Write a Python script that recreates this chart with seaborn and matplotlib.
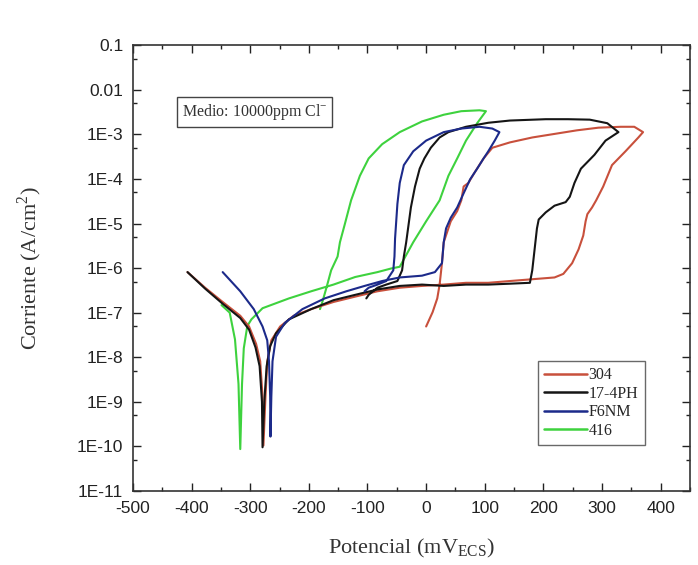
import numpy as np
import pandas as pd
import matplotlib
matplotlib.use("Agg")
import matplotlib.pyplot as plt
import seaborn as sns
from matplotlib.ticker import FixedLocator, FixedFormatter

# ---------------- data (potential mV, log10 current A/cm2) ----------------
series_names = ["304", "17-4PH", "F6NM", "416"]

e_304 = [-407, -377, -347, -317, -302, -290, -283, -279, -277.5,
         -274, -271, -264, -249, -226, -196, -158, -121, -83, -45, -7, 30, 68, 106,
         143, 181, 219, 234, 249, 260, 268, 272, 275, 283, 290, 302, 317, 340, 362, 370,
         355, 332, 294, 257, 219, 181, 143, 113, 98, 83, 72, 64, 60, 53, 42, 30, 27, 23, 19, 11, 0]
logi_304 = [-6.09, -6.44, -6.76, -7.07, -7.31, -7.70, -8.09, -8.88, -9.98,
            -8.88, -8.10, -7.62, -7.31, -7.07, -6.92, -6.76, -6.64, -6.52, -6.44, -6.40, -6.37, -6.33, -6.33,
            -6.29, -6.25, -6.21, -6.13, -5.89, -5.58, -5.27, -4.95, -4.79, -4.64, -4.48, -4.17, -3.69, -3.38, -3.07, -2.95,
            -2.83, -2.83, -2.85, -2.91, -2.99, -3.07, -3.18, -3.30, -3.54, -3.85, -4.09, -4.17, -4.48, -4.72, -4.95, -5.42, -5.89, -6.37, -6.68, -6.99, -7.31]

e_174 = [-407, -377, -347, -317, -302, -291, -284, -280, -279,
         -276, -272, -266, -256, -234, -196, -158, -121, -83, -45, -7, 30, 68, 106,
         143, 177, 181, 185, 189, 192, 204, 219, 238, 245, 253, 264, 287, 306, 328,
         309, 279, 242, 204, 143, 106, 68, 38, 23, 8, -3, -11, -19, -26, -30, -34, -38, -41, -49, -68, -83, -98, -102]
logi_174 = [-6.09, -6.46, -6.80, -7.12, -7.38, -7.78, -8.20, -9.00, -10.02,
            -9.00, -8.20, -7.75, -7.46, -7.15, -6.92, -6.72, -6.60, -6.48, -6.40, -6.37, -6.40, -6.37, -6.37,
            -6.35, -6.33, -6.05, -5.58, -5.11, -4.91, -4.75, -4.60, -4.52, -4.40, -4.09, -3.77, -3.46, -3.14, -2.95,
            -2.75, -2.67, -2.66, -2.66, -2.69, -2.74, -2.83, -2.95, -3.07, -3.30, -3.54, -3.77, -4.17, -4.64, -5.03, -5.42, -5.74, -6.05, -6.29, -6.37, -6.44, -6.60, -6.68]

e_f6 = [-347, -317, -294, -279, -271, -268, -266, -265.5,
        -264, -262, -256, -241, -211, -173, -136, -105, -75, -45, -7, 15, 27, 30, 34, 42, 53, 64, 75, 87, 98, 106, 117, 125,
        113, 91, 60, 30, 0, -22, -38, -45, -49, -51, -53, -54, -56, -68, -83, -98, -105]
logi_f6 = [-6.09, -6.52, -6.92, -7.31, -7.62, -8.09, -8.88, -9.78,
           -8.88, -8.09, -7.54, -7.23, -6.92, -6.68, -6.52, -6.40, -6.29, -6.21, -6.17, -6.09, -5.89, -5.42, -5.11, -4.87, -4.64, -4.32, -4.01, -3.77, -3.54, -3.38, -3.14, -2.95,
           -2.87, -2.83, -2.87, -2.95, -3.14, -3.38, -3.69, -4.09, -4.56, -4.95, -5.34, -5.74, -6.05, -6.29, -6.37, -6.44, -6.52]

e_416 = [-349, -335, -326, -320, -317,
         -314, -311, -305, -298, -279, -234, -196, -158, -121, -83, -60, -45,
         -22, 0, 23, 38, 53, 68, 87, 102,
         91, 60, 30, -7, -45, -75, -98, -113, -128, -139, -147, -151, -162, -170, -177, -181]
logi_416 = [-6.83, -7.00, -7.60, -8.60, -10.06,
            -8.60, -7.80, -7.30, -7.15, -6.90, -6.68, -6.52, -6.37, -6.20, -6.09, -6.01, -5.97,
            -5.42, -4.95, -4.48, -3.93, -3.54, -3.14, -2.75, -2.48,
            -2.46, -2.48, -2.56, -2.71, -2.95, -3.22, -3.54, -3.93, -4.48, -5.03, -5.42, -5.74, -6.05, -6.44, -6.76, -6.92]

colors = ["#c8503c", "#151515", "#1c2a8a", "#3ed23e"]

x_ticks = [-500, -400, -300, -200, -100, 0, 100, 200, 300, 400]
y_tick_vals = [1e-1, 1e-2, 1e-3, 1e-4, 1e-5, 1e-6, 1e-7, 1e-8, 1e-9, 1e-10, 1e-11]
y_tick_labels = ["0.1", "0.01", "1E-3", "1E-4", "1E-5", "1E-6", "1E-7", "1E-8", "1E-9", "1E-10", "1E-11"]

# ---------------- build frame ----------------
frames = []
for name, e, li in zip(series_names, [e_304, e_174, e_f6, e_416], [logi_304, logi_174, logi_f6, logi_416]):
    frames.append(pd.DataFrame({"E": e, "I": 10.0 ** np.array(li), "serie": name}))
df = pd.concat(frames, ignore_index=True)

sns.set_style("white")
plt.rcParams["font.family"] = ["Liberation Sans", "DejaVu Sans"]
plt.rcParams["axes.unicode_minus"] = False

fig = plt.figure(figsize=(6.98, 5.65), dpi=100)
ax = fig.add_axes([0.1905, 0.131, 0.798, 0.789])

draw_order = ["416", "304", "17-4PH", "F6NM"]
for name in draw_order:
    sub = df[df["serie"] == name]
    sns.lineplot(data=sub, x="E", y="I", sort=False, estimator=None, ax=ax,
                 color=colors[series_names.index(name)], lw=1.5, legend=False)

ax.set_yscale("log")
ax.set_xlim(-500, 450)
ax.set_ylim(1e-11, 1e-1)

ax.xaxis.set_major_locator(FixedLocator(x_ticks))
ax.xaxis.set_minor_locator(FixedLocator(np.arange(-450, 451, 100)))
ax.yaxis.set_major_locator(FixedLocator(y_tick_vals))
ax.yaxis.set_major_formatter(FixedFormatter(y_tick_labels))
ax.yaxis.set_minor_locator(FixedLocator([5 * 10.0 ** k for k in range(-12, -1)]))
ax.yaxis.set_minor_formatter(FixedFormatter([""] * 11))

ax.tick_params(which="both", direction="in", top=True, right=True, bottom=True, left=True,
               labelsize=12.5, colors="#222222", width=1.0)
ax.tick_params(which="major", length=6)
ax.tick_params(which="minor", length=3)
ax.tick_params(axis="x", which="major", pad=7)
ax.tick_params(axis="y", which="major", pad=7)
for s in ax.spines.values():
    s.set_color("#333333")
    s.set_linewidth(1.2)

serif = ["Liberation Serif", "DejaVu Serif"]
ax.set_xlabel("Potencial (mV$_{\\mathregular{ECS}}$)", fontsize=16, family=serif, color="#333333")
ax.set_ylabel("Corriente (A/cm$^{\\mathregular{2}}$)", fontsize=16, family=serif, color="#333333")
ax.xaxis.set_label_coords(0.5, -0.128)
ax.xaxis.label.set_va("center")
ax.yaxis.set_label_coords(-0.185, 0.5)
ax.yaxis.label.set_va("center")

# annotation box
ax.text(-417, 3.2e-3, "Medio: 10000ppm Cl$^{\\mathregular{-}}$", family=serif, fontsize=11.5,
        color="#333333", va="center", ha="left",
        bbox=dict(boxstyle="square,pad=0.3", fc="white", ec="#444444", lw=1.0))

# legend
handles = [plt.Line2D([], [], color=c, lw=1.8) for c in colors]
leg = ax.legend(handles, series_names, loc="lower right", bbox_to_anchor=(0.919, 0.103),
                prop={"family": serif, "size": 11.5}, frameon=True, fancybox=False,
                handlelength=2.7, handletextpad=0.1, borderpad=0.4, labelspacing=0.15,
                borderaxespad=0)
leg.get_frame().set_edgecolor("#444444")
leg.get_frame().set_linewidth(1.0)

fig.savefig("out.png", dpi=100, facecolor="white")
